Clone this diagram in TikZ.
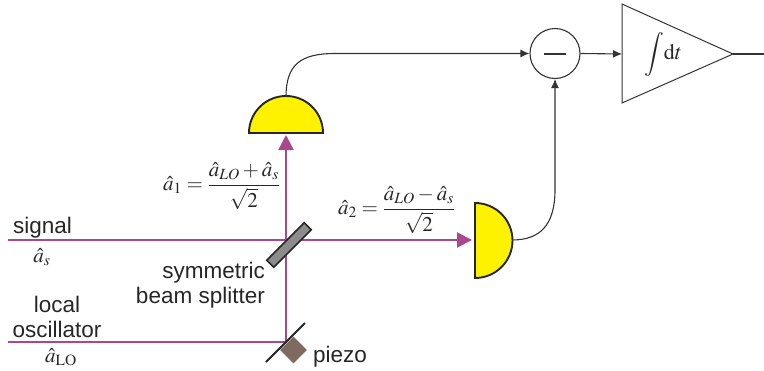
\documentclass[tikz,border=0pt]{standalone}
\usepackage{amsmath}
\usepackage{mathptmx}
\usepackage{fontspec}
\setmainfont{Liberation Sans}
\usetikzlibrary{arrows.meta,positioning}
\definecolor{beamcol}{HTML}{A8488F}
\definecolor{detcol}{HTML}{FFF200}
\definecolor{piezocol}{HTML}{7F6A60}
\definecolor{wirecol}{HTML}{333333}
\begin{document}
\begin{tikzpicture}[
  x=1pt, y=-1pt,
  beam/.style={draw=beamcol, line width=2.3pt},
  beamarrow/.style={beam, -{Triangle[length=15pt, width=15pt]}},
  wire/.style={draw=wirecol, line width=1.1pt},
  wirearrow/.style={wire, -{Latex[length=9pt, width=8pt]}},
  detector/.style={draw=black!85, fill=detcol, line width=1.9pt},
  splitter/.style={draw=black!85, fill=black!45, line width=1.6pt, rotate=45, minimum width=53pt, minimum height=10pt, inner sep=0pt},
  piezoblock/.style={fill=piezocol, rotate=45, minimum size=19pt, inner sep=0pt},
  label/.style={font=\fontsize{22.5}{25}\selectfont, align=center, text=black!85, inner sep=0pt},
  formula/.style={font=\fontsize{21}{25}\selectfont, text=black!85, inner sep=0pt}
]
\useasboundingbox (0,0) rectangle (764,370);
% key points
\coordinate (sigin) at (8,240);
\coordinate (loin) at (8,342);
\coordinate (mirror) at (286,342);
\coordinate (detup) at (286,135);
\coordinate (detuptop) at (286,97);
\coordinate (detright) at (472,240);
\coordinate (detrightout) at (512,240);
\coordinate (intin) at (622,54);
\coordinate (intout) at (733,54);
\coordinate (out) at (764,54);
% beams
\draw[beam] (loin) -- (mirror);
\draw[beamarrow] (mirror) -- (detup);
\draw[beamarrow] (sigin) -- (detright);
\node[splitter] (bs) at (289,245) {};
\node[piezoblock] (piezo) at (293.5,350) {};
\draw[draw=black!85, line width=2pt] (266,362) -- (305,323);
% detectors
\draw[detector] (249,133) arc[start angle=180, end angle=0, radius=37pt] -- cycle;
\draw[detector] (475,203) arc[start angle=90, end angle=-90, radius=37.5pt] -- cycle;
% electronics
\node[circle, wire, minimum size=50pt, inner sep=0pt] (sub) at (555,53.5) {};
\draw[draw=black!80, line width=1.3pt] (544,54) -- (566,54);
\draw[draw=black!80, line width=1pt] (622,4) -- (intout) -- (622,103) -- cycle;
\draw[wirearrow] (detuptop) .. controls (286,65) and (300,53.5) .. (335,53.5) -- (sub.west);
\draw[wirearrow] (detrightout) .. controls (540,240) and (555,225) .. (555,190) -- (sub.south);
\draw[wirearrow] (sub.east) -- (intin);
\draw[wire] (intout) -- (out);
% labels
\node[formula, font=\fontsize{22}{26}\selectfont] (intlabel) at (663,54) {$\displaystyle\int\!\mathrm{d}t$};
\node[label, anchor=base west] (siglabel) at (13,233.5) {signal};
\node[label, anchor=base east, align=right] (bslabel) at (265,303) {symmetric\\beam splitter};
\node[label] (lolabel) at (57,316.5) {local\\oscillator};
\node[label, anchor=base west] (piezolabel) at (313,362) {piezo};
\node[formula] (aslabel) at (42,257) {$\hat{a}_s$};
\node[formula] (alolabel) at (61,357) {$\hat{a}_{\mathrm{LO}}$};
\node[formula, anchor=west] (aonelabel) at (163,186) {$\hat{a}_1=\dfrac{\hat{a}_{LO}+\hat{a}_s}{\sqrt{2}}$};
\node[formula, anchor=west] (atwolabel) at (338,210) {$\hat{a}_2=\dfrac{\hat{a}_{LO}-\hat{a}_s}{\sqrt{2}}$};
\end{tikzpicture}
\end{document}
